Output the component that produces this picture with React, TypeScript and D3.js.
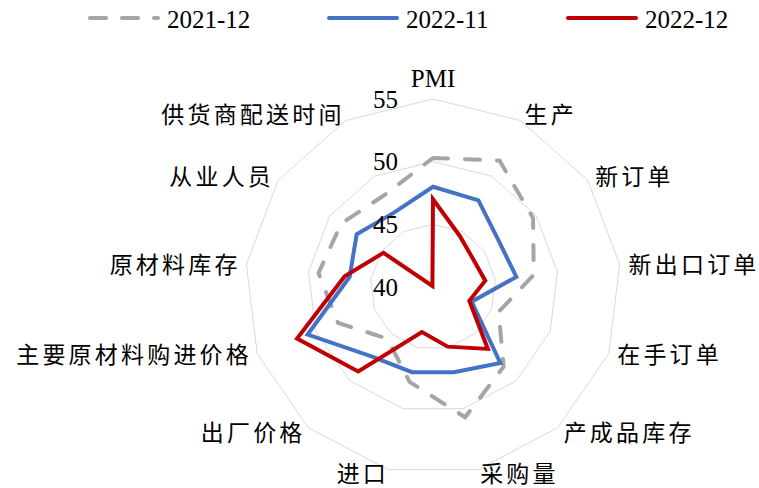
import React from 'react';
import * as d3 from 'd3';

// PMI sub-indices, three months
const categories = [
  'PMI', '生产', '新订单', '新出口订单', '在手订单', '产成品库存', '采购量',
  '进口', '出厂价格', '主要原材料购进价格', '原材料库存', '从业人员', '供货商配送时间',
];
const values2021Dec = [50.3, 51.4, 49.7, 48.1, 45.6, 48.5, 50.7, 47.8, 45.5, 48.1, 49.2, 48.9, 48.3];
const values2022Nov = [48.0, 47.8, 46.4, 46.7, 43.3, 48.1, 47.0, 47.0, 47.4, 50.7, 46.7, 47.4, 46.7];
const values2022Dec = [47.0, 44.6, 43.9, 44.2, 43.1, 46.6, 44.9, 43.7, 49.0, 51.6, 47.1, 44.8, 40.1];
const seriesNames = ['2021-12', '2022-11', '2022-12'];
const radialTicks = [40, 45, 50, 55];

const W = 759;
const H = 488;
const CX = 433;
const CY = 287;
const R = 188;

const LATIN = "'Liberation Serif', 'Times New Roman', serif";
const CJK = "'Noto Sans CJK SC', sans-serif";
const CJK_SPACING = 3.2;

const seriesStyles = [
  { color: '#A5A5A5', dash: '15 17' },
  { color: '#4472C4', dash: undefined as string | undefined },
  { color: '#C00000', dash: undefined as string | undefined },
];

export default function App() {
  const n = categories.length;
  const r = d3.scaleLinear().domain([40, 55]).range([0, R]);
  const angle = (i: number) => (i * 2 * Math.PI) / n;

  const radial = d3
    .lineRadial<number>()
    .angle((_, i) => angle(i))
    .radius((v) => r(v))
    .curve(d3.curveLinearClosed);

  const allSeries = [values2021Dec, values2022Nov, values2022Dec];
  const rings = radialTicks.filter((t) => t > 40);

  // legend layout
  const legendLineX = [90, 329, 568];
  const legendLineLen = 68;

  return (
    <svg
      width={W}
      height={H}
      style={{ position: 'absolute', left: 0, top: 0, background: '#fff' }}
    >
      <g transform={`translate(${CX},${CY})`}>
        {rings.map((t) => (
          <path
            key={t}
            d={radial(categories.map(() => t)) || ''}
            fill="none"
            stroke="#D9D9D9"
            strokeWidth={1}
          />
        ))}
        {allSeries.map((vals, si) => (
          <path
            key={si}
            d={radial(vals) || ''}
            fill="none"
            stroke={seriesStyles[si].color}
            strokeWidth={4}
            strokeDasharray={seriesStyles[si].dash}
            strokeLinecap={seriesStyles[si].dash ? 'round' : 'butt'}
          />
        ))}
        {radialTicks.map((t) => (
          <text
            key={t}
            x={-35}
            y={-r(t)}
            textAnchor="end"
            dominantBaseline="central"
            fontFamily={LATIN}
            fontSize={25}
            fill="#000"
          >
            {t}
          </text>
        ))}
        {categories.map((c, i) => {
          const a = angle(i);
          const s = Math.sin(a);
          const co = Math.cos(a);
          const x = (R + 9) * s;
          const y = -(R + 9) * co;
          if (Math.abs(s) < 0.01) {
            return (
              <text
                key={c}
                x={x}
                y={y - 3}
                textAnchor="middle"
                fontFamily={LATIN}
                fontSize={25}
                fill="#000"
              >
                {c}
              </text>
            );
          }
          const anchor = s > 0 ? 'start' : 'end';
          // keep the bottom-most labels inside the frame
          const dy = co < -0.95 ? -6.5 : co < 0 ? -3.5 : 0;
          return (
            <text
              key={c}
              x={s > 0 ? x : x + CJK_SPACING}
              y={y + dy}
              textAnchor={anchor}
              dominantBaseline="central"
              fontFamily={CJK}
              fontSize={23}
              letterSpacing={CJK_SPACING}
              fill="#000"
            >
              {c}
            </text>
          );
        })}
      </g>
      <g>
        {seriesNames.map((name, si) => (
          <g key={name}>
            <line
              x1={legendLineX[si]}
              x2={legendLineX[si] + legendLineLen}
              y1={18}
              y2={18}
              stroke={seriesStyles[si].color}
              strokeWidth={4}
              strokeDasharray={si === 0 ? '16 16' : undefined}
              strokeLinecap="round"
            />
            <text
              x={legendLineX[si] + legendLineLen + 9}
              y={19}
              dominantBaseline="central"
              fontFamily={LATIN}
              fontSize={25}
              fill="#000"
            >
              {name}
            </text>
          </g>
        ))}
      </g>
    </svg>
  );
}
